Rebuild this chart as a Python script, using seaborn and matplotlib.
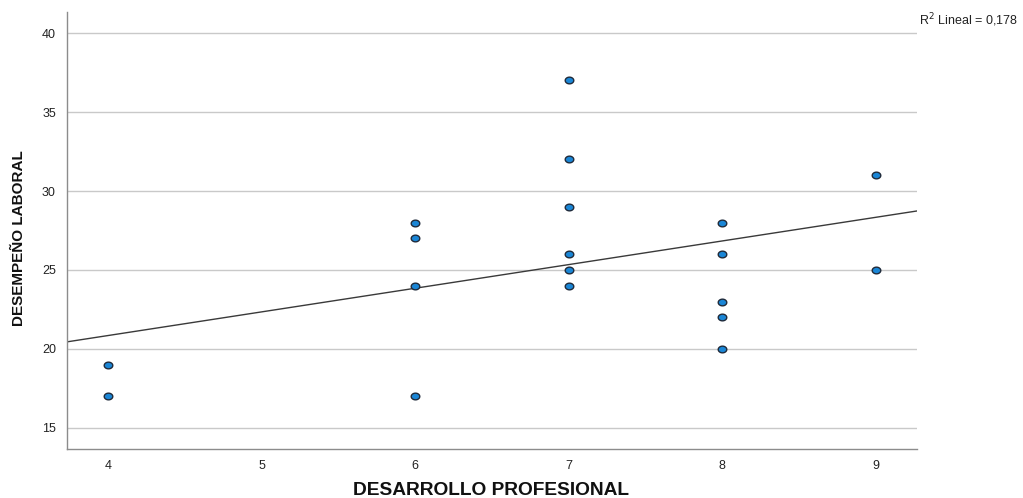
import numpy as np
import pandas as pd
import matplotlib
matplotlib.use("Agg")
import matplotlib.pyplot as plt
from matplotlib import font_manager
from matplotlib.path import Path
import seaborn as sns

desarrollo = [4, 4, 6, 6, 6, 6, 7, 7, 7, 7, 7, 7, 8, 8, 8, 8, 8, 9, 9]
desempeno = [19, 17, 28, 27, 24, 17, 37, 32, 29, 26, 25, 24, 28, 26, 23, 22, 20, 31, 25]
x_ticks = [4, 5, 6, 7, 8, 9]
y_ticks = [15, 20, 25, 30, 35, 40]
r2_label = "R$^2$ Lineal = 0,178"

df = pd.DataFrame({"DESARROLLO PROFESIONAL": desarrollo,
                   "DESEMPEÑO LABORAL": desempeno})

sns.set_theme(style="white")
plt.rcParams["font.family"] = ["Liberation Sans", "DejaVu Sans"]

names = {f.name for f in font_manager.fontManager.ttflist}
narrow = "Liberation Sans Narrow" if "Liberation Sans Narrow" in names else None

fig = plt.figure(figsize=(10.23, 4.98), dpi=100)
ax = fig.add_axes([67 / 1023, 1 - 449 / 498, (917 - 67) / 1023, (449 - 12) / 498])

ax.set_xlim(3.73, 9.27)
ax.set_ylim(13.67, 41.33)
ax.set_yticks(y_ticks)
ax.set_xticks(x_ticks)
ax.yaxis.grid(True, color="#c9c9c9", linewidth=1.0)
ax.set_axisbelow(True)

# slightly flattened circle marker
t = np.linspace(0, 2 * np.pi, 60)
ellipse = Path(np.column_stack([np.cos(t), 0.78 * np.sin(t)]), closed=True)

sns.regplot(data=df, x="DESARROLLO PROFESIONAL", y="DESEMPEÑO LABORAL",
            scatter=False, ci=None, truncate=False, ax=ax,
            line_kws={"color": "#3a3a3a", "linewidth": 1.0})
sns.scatterplot(data=df, x="DESARROLLO PROFESIONAL", y="DESEMPEÑO LABORAL",
                ax=ax, marker=ellipse, s=38, color="#1a86d6",
                edgecolor="#1f2a3a", linewidth=1.0, zorder=3)

ax.set_xlim(3.73, 9.27)
ax.set_ylim(13.67, 41.33)

for side in ["top", "right"]:
    ax.spines[side].set_visible(False)
for side in ["left", "bottom"]:
    ax.spines[side].set_color("#8c8c8c")
    ax.spines[side].set_linewidth(1.0)

ax.tick_params(axis="both", length=0, labelsize=9, colors="#222222", pad=8)
ax.set_xlabel("DESARROLLO PROFESIONAL", fontsize=13.8, fontweight="bold",
              color="#111111")
if narrow:
    ax.set_ylabel("DESEMPEÑO LABORAL", fontsize=13, fontweight="bold",
                  family=[narrow, "Liberation Sans"], color="#111111")
else:
    ax.set_ylabel("DESEMPEÑO LABORAL", fontsize=11, fontweight="bold",
                  color="#111111")
ax.xaxis.set_label_coords((491 - 67) / 850, (449 - 490) / 437)
ax.yaxis.set_label_coords((19 - 67) / 850, (449 - 238) / 437)
ax.xaxis.label.set_va("center")
ax.yaxis.label.set_va("center")

fig.text(919 / 1023, 1 - 20 / 498, r2_label, fontsize=9, color="#222222",
         ha="left", va="center")

fig.savefig("out.png", dpi=100)
